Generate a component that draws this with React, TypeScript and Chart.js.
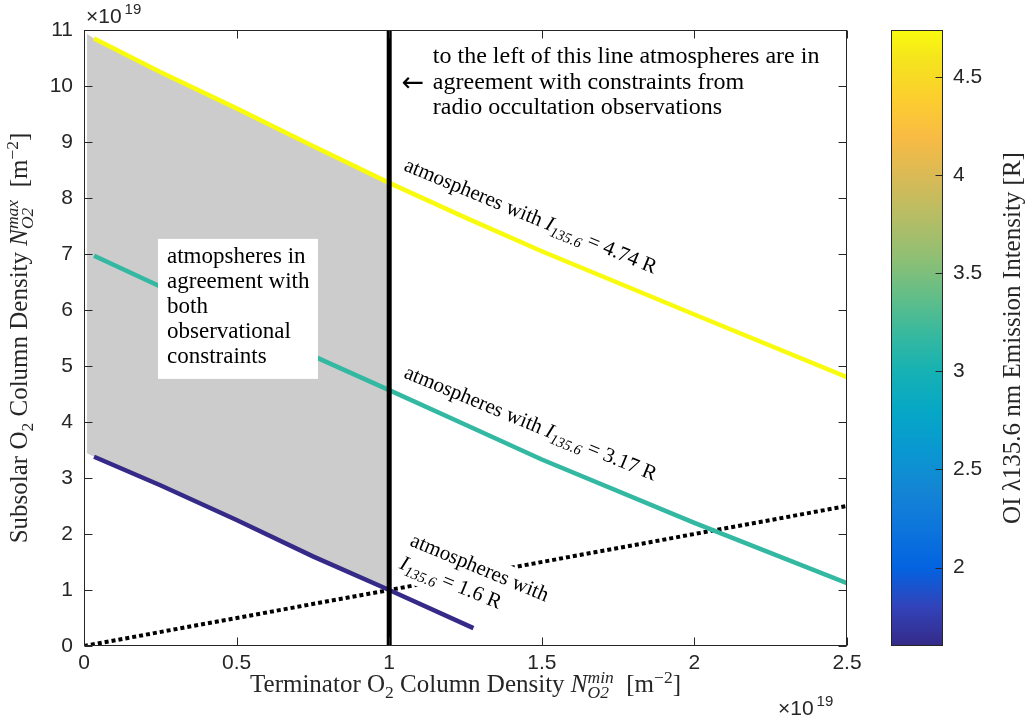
import React, { useEffect, useRef } from 'react';
import { Chart, registerables } from 'chart.js';

Chart.register(...registerables);

// ---------------- data (column densities in units of 1e19 m^-2) ----------------
const intensities = [1.6, 3.17, 4.74]; // OI 135.6 nm intensity [R] of the three curves
const xLow = [0.033, 0.25, 0.5, 0.75, 1.0, 1.276];
const yLow = [3.38, 2.87, 2.25, 1.6, 1.0, 0.32];
const xMid = [0.033, 0.25, 0.5, 0.75, 1.0, 1.25, 1.5, 2.0, 2.5];
const yMid = [6.97, 6.42, 5.8, 5.18, 4.57, 3.95, 3.33, 2.2, 1.12];
const xHigh = [0.033, 0.25, 0.5, 0.75, 1.0, 1.25, 1.5, 2.0, 2.5];
const yHigh = [10.85, 10.25, 9.6, 8.93, 8.27, 7.65, 7.05, 5.92, 4.8];
const xEqual = [0, 2.5];
const yEqual = [0, 2.5];
const radioLimit = 1.0;
const regionLeft = 0.01;
const regionLeftTop = 10.93;
const regionLeftBottom = 3.44;
const xTicks = [0, 0.5, 1, 1.5, 2, 2.5];
const yTicks = [0, 1, 2, 3, 4, 5, 6, 7, 8, 9, 10, 11];
const cbTicks = [2, 2.5, 3, 3.5, 4, 4.5];
const xRange = [0, 2.5];
const yRange = [0, 11];

// ---------------- styles ----------------
const SERIF = '"Liberation Serif", "Times New Roman", Times, serif';
const SANS = '"Liberation Sans", Arial, Helvetica, sans-serif';
const AX = '#262626';
const GRAY = '#cccccc';

// parula colormap (index out of 63, r, g, b)
const PARULA = [
  [0, 0.2081, 0.1663, 0.5292], [4, 0.1959, 0.2645, 0.7279], [8, 0.0117, 0.3875, 0.882],
  [12, 0.0498, 0.4586, 0.8641], [16, 0.0793, 0.52, 0.8312], [20, 0.0343, 0.5966, 0.8199],
  [24, 0.0228, 0.6535, 0.7768], [28, 0.0843, 0.6928, 0.7062], [32, 0.2178, 0.725, 0.6193],
  [36, 0.3953, 0.7459, 0.5244], [40, 0.5709, 0.7485, 0.4494], [44, 0.7184, 0.7411, 0.3905],
  [48, 0.8507, 0.7299, 0.336], [52, 0.9739, 0.7314, 0.2666], [56, 0.988, 0.8066, 0.1794],
  [60, 0.9589, 0.8949, 0.1132], [63, 0.9763, 0.9831, 0.0538],
];
const rgb = (r: number, g: number, b: number) =>
  `rgb(${Math.round(r * 255)},${Math.round(g * 255)},${Math.round(b * 255)})`;
function parula(t: number): string {
  const f = Math.max(0, Math.min(1, t)) * 63;
  for (let i = 0; i < PARULA.length - 1; i++) {
    const a = PARULA[i], b = PARULA[i + 1];
    if (f >= a[0] && f <= b[0]) {
      const u = (f - a[0]) / (b[0] - a[0]);
      return rgb(a[1] + (b[1] - a[1]) * u, a[2] + (b[2] - a[2]) * u, a[3] + (b[3] - a[3]) * u);
    }
  }
  const l = PARULA[PARULA.length - 1];
  return rgb(l[1], l[2], l[3]);
}
const cbMin = Math.min(...intensities);
const cbMax = Math.max(...intensities);
const colorFor = (I: number) => parula((I - cbMin) / (cbMax - cbMin));

// ---------------- rich text helpers ----------------
type Seg = { t: string; it?: boolean; s?: number; dy?: number; stack?: boolean };
const fontOf = (seg: Seg, size: number) =>
  `${seg.it ? 'italic ' : ''}${(size * (seg.s ?? 1)).toFixed(2)}px ${SERIF}`;
function richWidth(ctx: CanvasRenderingContext2D, segs: Seg[], size: number) {
  let w = 0, pend = 0;
  for (const s of segs) {
    ctx.font = fontOf(s, size);
    const sw = ctx.measureText(s.t).width;
    if (s.stack) { pend = Math.max(pend, sw); continue; }
    w += Math.max(pend, sw); pend = 0;
  }
  return w + pend;
}
function drawRich(ctx: CanvasRenderingContext2D, segs: Seg[], x: number, y: number, size: number, align: 'left' | 'center' = 'left') {
  const w = richWidth(ctx, segs, size);
  let cx = align === 'center' ? x - w / 2 : x;
  let pend = 0;
  ctx.textAlign = 'left';
  ctx.textBaseline = 'alphabetic';
  for (const s of segs) {
    ctx.font = fontOf(s, size);
    const sw = ctx.measureText(s.t).width;
    ctx.fillText(s.t, cx, y + (s.dy ?? 0) * size);
    if (s.stack) { pend = Math.max(pend, sw); continue; }
    cx += Math.max(pend, sw); pend = 0;
  }
  return w;
}

const xTitle: Seg[] = [
  { t: 'Terminator O' }, { t: '2', s: 0.7, dy: 0.22 }, { t: ' Column Density ' }, { t: 'N', it: true },
  { t: 'min', it: true, s: 0.7, dy: -0.38, stack: true }, { t: 'O2', it: true, s: 0.7, dy: 0.25 },
  { t: '  [m' }, { t: '\u22122', s: 0.7, dy: -0.38 }, { t: ']' },
];
const yTitle: Seg[] = [
  { t: 'Subsolar O' }, { t: '2', s: 0.7, dy: 0.22 }, { t: ' Column Density ' }, { t: 'N', it: true },
  { t: 'max', it: true, s: 0.7, dy: -0.38, stack: true }, { t: 'O2', it: true, s: 0.7, dy: 0.25 },
  { t: '  [m' }, { t: '\u22122', s: 0.7, dy: -0.38 }, { t: ']' },
];
const cbTitle: Seg[] = [{ t: 'OI \u03bb135.6 nm Emission Intensity [R]' }];
const intensityLabel = (I: number): Seg[] => [
  { t: 'I', it: true }, { t: '135.6', it: true, s: 0.7, dy: 0.22 }, { t: ` = ${I} R` },
];
const radioText = [
  'to the left of this line atmospheres are in',
  'agreement with constraints from',
  'radio occultation observations',
];
const boxText = ['atmopsheres in', 'agreement with', 'both', 'observational', 'constraints'];

// annotation anchors (data coordinates)
const LABEL_ANGLE = 22.5;
const anchorHigh = { x: 1.045, y: 8.5 };
const anchorMid = { x: 1.045, y: 4.8 };
const anchorLow = { x: 1.065, y: 1.8 };
const anchorRadio = { x: 1.143, y: 10.41 };
const anchorArrow = { x: 1.04 };
const anchorBox = { x: 0.2425, y: 7.27 };

const pts = (xs: number[], ys: number[]) => xs.map((x, i) => ({ x, y: ys[i] }));
const regionPts = [
  { x: regionLeft, y: regionLeftTop },
  ...pts(xHigh, yHigh).filter((p) => p.x <= radioLimit),
  ...pts(xLow, yLow).filter((p) => p.x <= radioLimit).reverse(),
  { x: regionLeft, y: regionLeftBottom },
];

const mainDecor = {
  id: 'mainDecor',
  afterDatasetsDraw(chart: any) {
    const { ctx, scales: { x, y } } = chart;
    const px = (v: number) => x.getPixelForValue(v);
    const py = (v: number) => y.getPixelForValue(v);
    const ang = (LABEL_ANGLE * Math.PI) / 180;
    ctx.save();
    ctx.fillStyle = '#000';
    // curve labels
    const curveLabel = (a: { x: number; y: number }, I: number) => {
      ctx.save();
      ctx.translate(px(a.x), py(a.y));
      ctx.rotate(ang);
      ctx.fillStyle = '#000';
      const segs: Seg[] = [{ t: 'atmospheres with ' }, ...intensityLabel(I)];
      drawRich(ctx, segs, 0, 0, 21);
      ctx.restore();
    };
    curveLabel(anchorHigh, intensities[2]);
    curveLabel(anchorMid, intensities[1]);
    // low curve label (two lines, white background)
    ctx.save();
    ctx.translate(px(anchorLow.x), py(anchorLow.y));
    ctx.rotate(ang);
    const l1: Seg[] = [{ t: 'atmospheres with' }];
    const l2 = intensityLabel(intensities[0]);
    const w = Math.max(richWidth(ctx, l1, 21), richWidth(ctx, l2, 21));
    ctx.fillStyle = '#fff';
    ctx.fillRect(-3, -20, w + 8, 55);
    ctx.fillStyle = '#000';
    drawRich(ctx, l1, 0, 0, 21);
    drawRich(ctx, l2, -1, 25, 21);
    ctx.restore();
    // radio occultation note
    const rx = px(anchorRadio.x), ry = py(anchorRadio.y);
    ctx.fillStyle = '#000';
    ctx.textAlign = 'left';
    ctx.textBaseline = 'alphabetic';
    ctx.font = `24px ${SERIF}`;
    radioText.forEach((t, i) => ctx.fillText(t, rx, ry + i * 25.5));
    ctx.font = `27px "DejaVu Sans", ${SERIF}`;
    ctx.fillText('\u2190', px(anchorArrow.x), ry + 25.5 + 2);
    // white box
    const bx = px(anchorBox.x), by = py(anchorBox.y);
    ctx.fillStyle = '#fff';
    ctx.fillRect(bx, by, 160, 140);
    ctx.fillStyle = '#000';
    ctx.font = `23px ${SERIF}`;
    boxText.forEach((t, i) => ctx.fillText(t, bx + 9, by + 24 + i * 25));
    ctx.restore();
  },
  afterDraw(chart: any) {
    const { ctx, chartArea: a, scales: { x, y } } = chart;
    ctx.save();
    ctx.strokeStyle = AX;
    ctx.lineWidth = 1;
    const L = Math.round(a.left) + 0.5, R = Math.round(a.right) - 0.5;
    const T = Math.round(a.top) + 0.5, B = Math.round(a.bottom) - 0.5;
    ctx.strokeRect(L, T, R - L, B - T);
    const TL = 8;
    ctx.beginPath();
    for (const v of xTicks) {
      const p = Math.round(x.getPixelForValue(v)) + 0.5;
      ctx.moveTo(p, B); ctx.lineTo(p, B - TL);
      ctx.moveTo(p, T); ctx.lineTo(p, T + TL);
    }
    for (const v of yTicks) {
      const p = Math.round(y.getPixelForValue(v)) + 0.5;
      ctx.moveTo(L, p); ctx.lineTo(L + TL, p);
      ctx.moveTo(R, p); ctx.lineTo(R - TL, p);
    }
    ctx.stroke();
    // exponent labels
    ctx.fillStyle = AX;
    ctx.textAlign = 'left';
    ctx.textBaseline = 'alphabetic';
    const expo = (x0: number, y0: number) => {
      ctx.font = `21px ${SANS}`;
      ctx.fillText('\u00d710', x0, y0);
      const w = ctx.measureText('\u00d710').width;
      ctx.font = `15px ${SANS}`;
      ctx.fillText('19', x0 + w + 3, y0 - 9);
    };
    expo(a.left + 2, a.top - 7);
    expo(a.right - 69, 715);
    // axis titles
    ctx.fillStyle = AX;
    drawRich(ctx, xTitle, (a.left + a.right) / 2, 692, 25, 'center');
    ctx.save();
    ctx.translate(27, (a.top + a.bottom) / 2);
    ctx.rotate(-Math.PI / 2);
    drawRich(ctx, yTitle, 0, 0, 25, 'center');
    ctx.restore();
    ctx.restore();
  },
};

const cbDecor = {
  id: 'cbDecor',
  afterDraw(chart: any) {
    const { ctx, chartArea: a, scales: { y } } = chart;
    ctx.save();
    ctx.strokeStyle = AX;
    ctx.lineWidth = 1;
    const L = Math.round(a.left) + 0.5, R = Math.round(a.right) - 0.5;
    const T = Math.round(a.top) + 0.5, B = Math.round(a.bottom) - 0.5;
    ctx.strokeRect(L, T, R - L, B - T);
    ctx.beginPath();
    for (const v of cbTicks) {
      const p = Math.round(y.getPixelForValue(v)) + 0.5;
      ctx.moveTo(R, p); ctx.lineTo(R - 7, p);
    }
    ctx.stroke();
    ctx.fillStyle = AX;
    ctx.translate(140, (a.top + a.bottom) / 2);
    ctx.rotate(-Math.PI / 2);
    drawRich(ctx, cbTitle, 0, 0, 25, 'center');
    ctx.restore();
  },
};

const lineDs = (label: string, xs: number[], ys: number[], color: string, width: number, order: number, dash: number[] = []) => ({
  label,
  data: pts(xs, ys),
  showLine: true,
  borderColor: color,
  backgroundColor: color,
  borderWidth: width,
  borderDash: dash,
  pointRadius: 0,
  fill: false,
  order,
});

const tickFont = { family: SANS, size: 21 };

export default function App() {
  const mainRef = useRef<HTMLCanvasElement>(null);
  const cbRef = useRef<HTMLCanvasElement>(null);

  useEffect(() => {
    const main = new Chart(mainRef.current as HTMLCanvasElement, {
      type: 'scatter',
      data: {
        datasets: [
          {
            label: 'region',
            data: regionPts,
            showLine: true,
            fill: 'shape',
            backgroundColor: GRAY,
            borderColor: 'rgba(0,0,0,0)',
            borderWidth: 0,
            pointRadius: 0,
            order: 6,
          } as any,
          lineDs('equal', xEqual, yEqual, '#000', 4, 5, [4, 3]),
          lineDs('low', xLow, yLow, colorFor(intensities[0]), 4.5, 3),
          lineDs('mid', xMid, yMid, colorFor(intensities[1]), 4.5, 3),
          lineDs('high', xHigh, yHigh, colorFor(intensities[2]), 4.5, 3),
          lineDs('radio', [radioLimit, radioLimit], yRange, '#000', 5, 1),
        ],
      },
      options: {
        responsive: false,
        animation: false,
        devicePixelRatio: 1,
        layout: { padding: { left: 0, right: 33, top: 30, bottom: 0 } },
        plugins: { legend: { display: false }, tooltip: { enabled: false } },
        elements: { line: { tension: 0 }, point: { radius: 0 } },
        scales: {
          x: {
            type: 'linear',
            min: xRange[0],
            max: xRange[1],
            afterBuildTicks: (s: any) => { s.ticks = xTicks.map((v) => ({ value: v })); },
            afterFit: (s: any) => { s.height = 76; },
            grid: { display: false, drawTicks: false, tickLength: 0 },
            border: { display: false },
            ticks: { font: tickFont, color: AX, padding: 5, maxRotation: 0, autoSkip: false, callback: (v: any) => String(v) },
          },
          y: {
            type: 'linear',
            min: yRange[0],
            max: yRange[1],
            afterBuildTicks: (s: any) => { s.ticks = yTicks.map((v) => ({ value: v })); },
            afterFit: (s: any) => { s.width = 84; },
            grid: { display: false, drawTicks: false, tickLength: 0 },
            border: { display: false },
            ticks: { font: tickFont, color: AX, padding: 11, autoSkip: false, callback: (v: any) => String(v) },
          },
        },
      } as any,
      plugins: [mainDecor],
    });

    const cb = new Chart(cbRef.current as HTMLCanvasElement, {
      type: 'bar',
      data: {
        labels: ['I'],
        datasets: [
          {
            data: [[cbMin, cbMax]],
            borderWidth: 0,
            barPercentage: 1,
            categoryPercentage: 1,
            backgroundColor: (c: any) => {
              const chart = c.chart;
              const ys = chart.scales?.y;
              if (!chart.chartArea || !ys) return colorFor(cbMin);
              const g = chart.ctx.createLinearGradient(0, ys.getPixelForValue(cbMin), 0, ys.getPixelForValue(cbMax));
              PARULA.forEach((p) => g.addColorStop(p[0] / 63, rgb(p[1], p[2], p[3])));
              return g;
            },
          } as any,
        ],
      },
      options: {
        responsive: false,
        animation: false,
        devicePixelRatio: 1,
        layout: { padding: { left: 11, right: 0, top: 30, bottom: 76 } },
        plugins: { legend: { display: false }, tooltip: { enabled: false } },
        scales: {
          x: { display: false },
          y: {
            position: 'right',
            min: cbMin,
            max: cbMax,
            afterBuildTicks: (s: any) => { s.ticks = cbTicks.map((v) => ({ value: v })); },
            afterFit: (s: any) => { s.width = 91; },
            grid: { display: false, drawTicks: false, tickLength: 0 },
            border: { display: false },
            ticks: { font: tickFont, color: AX, padding: 10, callback: (v: any) => String(v) },
          },
        },
      } as any,
      plugins: [cbDecor],
    });

    return () => {
      main.destroy();
      cb.destroy();
    };
  }, []);

  return (
    <div style={{ position: 'fixed', left: 0, top: 0, width: 1034, height: 722, background: '#fff' }}>
      <canvas ref={mainRef} width={880} height={722} style={{ position: 'absolute', left: 0, top: 0, width: 880, height: 722 }} />
      <canvas ref={cbRef} width={154} height={722} style={{ position: 'absolute', left: 880, top: 0, width: 154, height: 722 }} />
    </div>
  );
}
